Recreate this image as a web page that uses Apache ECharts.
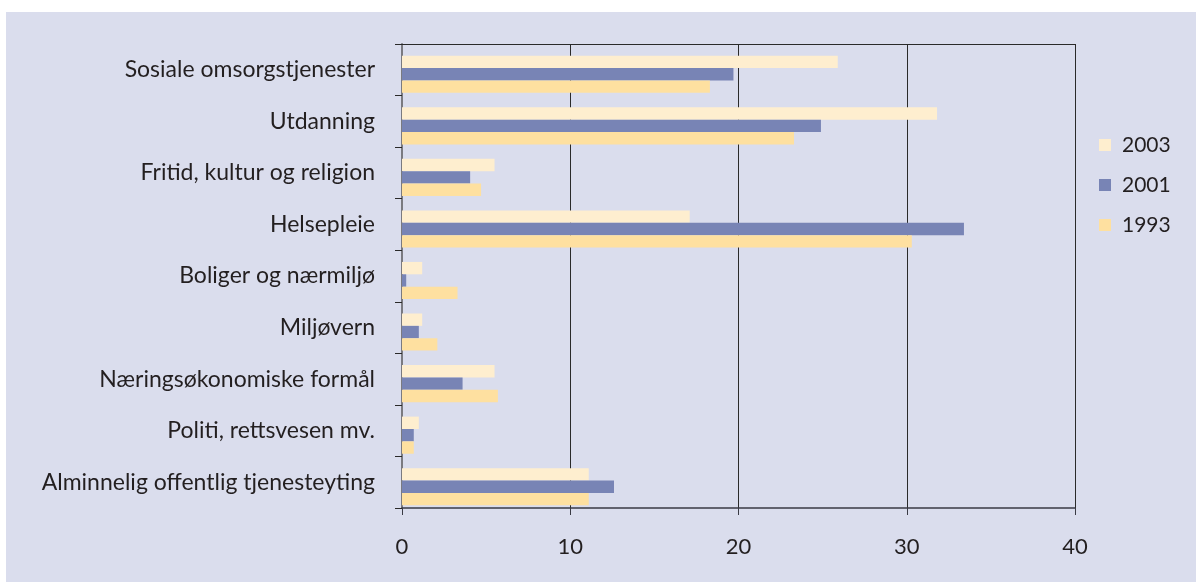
<!DOCTYPE html>
<html>
<head>
<meta charset="utf-8">
<script src="https://cdn.jsdelivr.net/npm/echarts@6/dist/echarts.min.js"></script>
<style>
  html, body { margin: 0; padding: 0; background: #ffffff; }
  #wrap { position: absolute; left: 6px; top: 12px; width: 1190px; height: 570px; background: #dadded; }
  #chart { width: 1190px; height: 570px; }
</style>
</head>
<body>
<div id="wrap"><div id="chart"></div></div>
<script>
const categories = [
  "Sosiale omsorgstjenester",
  "Utdanning",
  "Fritid, kultur og religion",
  "Helsepleie",
  "Boliger og nærmiljø",
  "Miljøvern",
  "Næringsøkonomiske formål",
  "Politi, rettsvesen mv.",
  "Alminnelig offentlig tjenesteyting"
];
const values2003 = [25.9, 31.8, 5.5, 17.1, 1.2, 1.2, 5.5, 1.0, 11.1];
const values2001 = [19.7, 24.9, 4.05, 33.4, 0.25, 1.0, 3.6, 0.7, 12.6];
const values1993 = [18.3, 23.3, 4.7, 30.3, 3.3, 2.1, 5.7, 0.7, 11.1];
const xTicks = [0, 10, 20, 30, 40];

const FONT = "Lato";
const TXT = "#231f20";
const chart = echarts.init(document.getElementById("chart"), null, { renderer: "canvas" });
const mk = (name, data, color) => ({
  name, type: "bar", data, barGap: "0%", barCategoryGap: "28%",
  xAxisIndex: 2, yAxisIndex: 1,
  itemStyle: { color }, emphasis: { disabled: true }, animation: false
});
const xMin = xTicks[0], xMax = xTicks[xTicks.length - 1];
chart.setOption({
  backgroundColor: "transparent",
  animation: false,
  textStyle: { fontFamily: FONT, color: TXT },
  grid: [
    { left: 396, right: 121, top: 32, bottom: 74, containLabel: false },
    { left: 396, right: 121, top: 36.5, bottom: 69.5, containLabel: false }
  ],
  legend: {
    orient: "vertical", left: 1088, top: 117,
    itemWidth: 12, itemHeight: 12, itemGap: 18,
    icon: "rect",
    data: ["2003", "2001", "1993"],
    textStyle: { fontFamily: FONT, fontSize: 21, color: TXT, lineHeight: 22, padding: [0, 0, 0, 6] }
  },
  xAxis: [{
    gridIndex: 0, type: "value", min: xMin, max: xMax, interval: 10,
    axisLine: { show: true, lineStyle: { color: "#3a3a44", width: 1.5 } },
    axisTick: { show: true, inside: false, length: 7, lineStyle: { color: "#3a3a44" } },
    axisLabel: { fontFamily: FONT, fontSize: 22, color: TXT, margin: 28 },
    splitLine: { show: true, lineStyle: { color: "#2a2a2a", width: 1 } }
  }, {
    gridIndex: 0, type: "value", position: "top", min: xMin, max: xMax, interval: 10,
    axisLine: { show: true, lineStyle: { color: "#2a2a2a", width: 1 } },
    axisTick: { show: false }, axisLabel: { show: false }, splitLine: { show: false }
  }, {
    gridIndex: 1, type: "value", min: xMin, max: xMax, interval: 10, show: false
  }],
  yAxis: [{
    gridIndex: 0, type: "category", data: categories, inverse: true,
    axisLine: { show: true, lineStyle: { color: "#7a7a80", width: 2 } },
    axisTick: { show: true, length: 7, lineStyle: { color: "#2a2a2a" } },
    axisLabel: { fontFamily: FONT, fontSize: 23, color: TXT, margin: 27 }
  }, {
    gridIndex: 1, type: "category", data: categories, inverse: true, show: false
  }],
  series: [
    mk("2003", values2003, "#feeecf"),
    mk("2001", values2001, "#7884b5"),
    mk("1993", values1993, "#fee0a0")
  ]
});
</script>
</body>
</html>
